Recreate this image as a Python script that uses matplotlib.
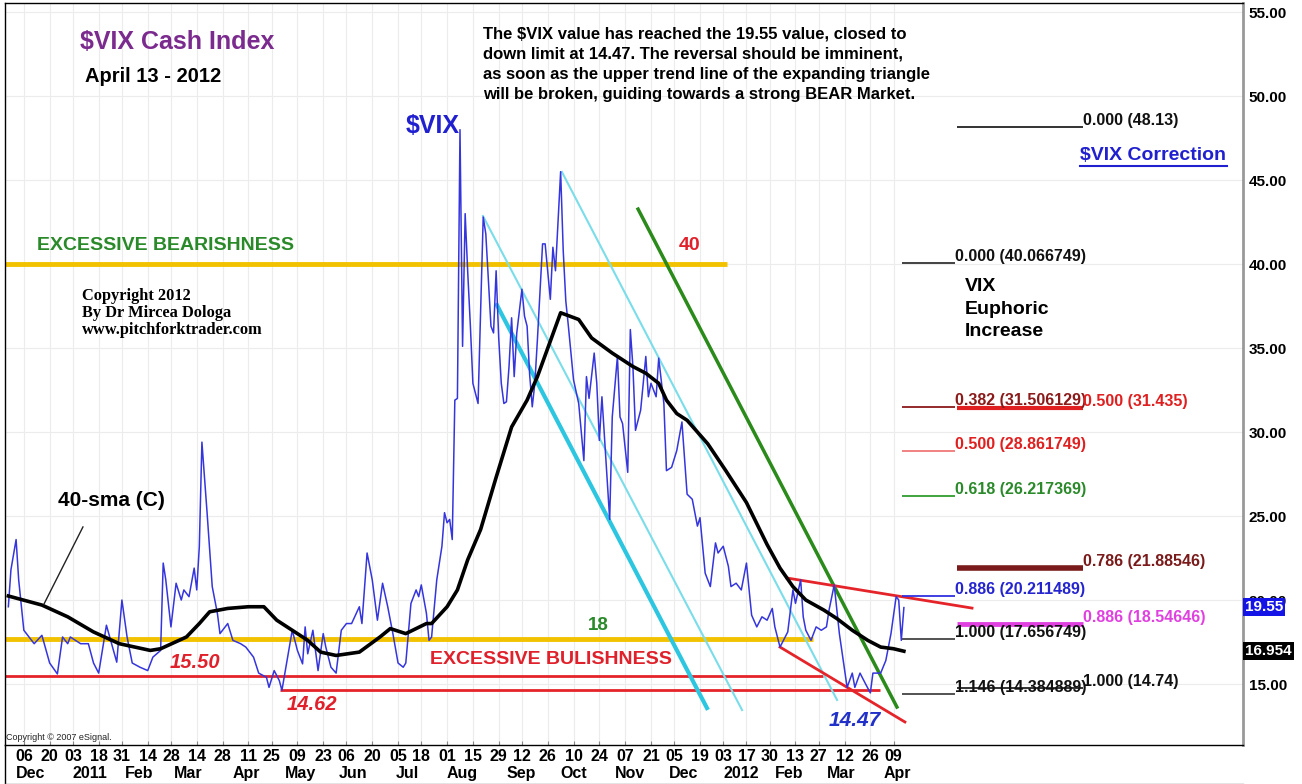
import numpy as np
import matplotlib
matplotlib.use("Agg")
import matplotlib.pyplot as plt
from matplotlib.lines import Line2D

W, H = 1302, 784
plt.rcParams['font.family'] = ['Liberation Sans', 'DejaVu Sans']

# x axis = trading sessions counted from 6 Dec 2010 (NYSE holidays skipped)
start = '2010-12-06'
holidays = ['2010-12-24', '2011-01-17', '2011-02-21', '2011-04-22', '2011-05-30', '2011-07-04',
            '2011-09-05', '2011-11-24', '2011-12-26', '2012-01-02', '2012-01-16', '2012-02-20',
            '2012-04-06']

def session(d):
    return np.busday_count(start, d, holidays=holidays)

# $VIX close (session number, value)
vix_day = [-6, -5, -3, -2, 0, 4, 7, 10, 13, 15, 17, 18, 22, 25, 27, 29, 32, 36, 38, 40,
           42, 45, 48, 50, 53, 54, 55, 57, 59, 61, 62, 64, 66, 67, 68, 69, 71, 73, 75, 76,
           79, 81, 84, 86, 89, 91, 94, 95, 97, 99, 100, 102, 104, 106, 108, 109, 110, 112, 114, 116,
           117, 119, 121, 123, 125, 127, 130, 131, 133, 135, 137, 139, 141, 143, 145, 147, 148, 150, 152, 153,
           154, 156, 157, 158, 160, 162, 163, 164, 165, 166, 167, 168, 169, 170, 171, 172, 173, 174, 175, 176,
           178, 179, 181, 182, 183, 184, 185, 186, 187, 188, 189, 190, 191, 193, 194, 195, 196, 197, 198, 199,
           201, 202, 204, 205, 206, 208, 209, 210, 211, 213, 215, 217, 218, 219, 221, 222, 223, 224, 226, 227,
           228, 230, 231, 232, 234, 235, 236, 237, 239, 241, 242, 243, 245, 246, 248, 249, 251, 253, 255, 257,
           259, 261, 262, 264, 266, 268, 269, 271, 273, 274, 276, 278, 280, 282, 284, 286, 288, 290, 291, 293,
           296, 298, 299, 301, 302, 303, 305, 307, 309, 311, 312, 314, 316, 319, 321, 322, 324, 326, 328, 329,
           332, 334, 336, 338, 339, 340, 341]
vix_val = [19.6, 21.8, 23.6, 21.2, 18.2, 17.4, 17.9, 16.25, 15.6, 17.8, 17.4, 17.8, 17.4, 17.4, 16.25, 15.65, 18.5, 16.3, 20.0, 17.8,
           16.25, 16.0, 15.8, 16.6, 17.0, 22.2, 21.2, 18.4, 21.0, 20.0, 20.6, 20.2, 21.9, 20.6, 23.2, 29.4, 25.2, 20.8, 19.2, 18.0,
           18.6, 17.6, 17.4, 17.2, 16.6, 15.65, 15.4, 14.8, 15.8, 15.2, 14.62, 16.4, 18.2, 17.0, 16.2, 18.4, 16.8, 18.2, 15.8, 18.0,
           17.2, 16.0, 15.65, 18.2, 18.6, 18.6, 19.6, 18.6, 22.8, 21.2, 18.8, 21.0, 19.6, 18.0, 16.25, 16.0, 16.25, 19.8, 20.6, 20.2,
           20.9, 19.2, 17.6, 17.8, 21.2, 23.2, 25.2, 24.6, 24.8, 23.6, 31.9, 32.0, 48.0, 35.1, 43.0, 39.5, 36.4, 32.9, 32.3, 31.7,
           42.8, 41.8, 36.3, 35.9, 39.6, 35.6, 32.9, 31.7, 31.8, 33.9, 36.8, 33.3, 35.9, 38.5, 36.9, 36.3, 33.4, 31.5, 32.9, 35.5,
           41.2, 41.2, 37.9, 41.0, 39.6, 45.5, 40.8, 37.8, 36.3, 33.1, 31.7, 28.3, 33.3, 32.0, 34.7, 32.9, 29.5, 32.1, 27.3, 24.8,
           30.9, 34.5, 30.9, 30.5, 27.6, 36.1, 33.9, 30.1, 31.3, 34.5, 32.1, 32.9, 32.1, 34.4, 31.7, 27.7, 27.9, 28.9, 30.6, 26.3,
           26.0, 24.4, 24.9, 21.6, 20.8, 23.4, 22.8, 23.2, 22.0, 20.8, 21.0, 20.6, 22.2, 19.1, 18.4, 19.0, 18.8, 19.5, 18.4, 17.2,
           18.1, 20.6, 19.8, 21.2, 19.0, 18.2, 17.6, 18.4, 18.2, 18.4, 19.4, 20.9, 18.0, 14.8, 15.65, 14.8, 15.65, 15.05, 14.47, 15.65,
           15.65, 16.4, 18.0, 20.2, 20.0, 17.6, 19.55]

# 40-sma (C)
sma_day = [-6, 7, 17, 27, 37, 49, 53, 63, 68, 72, 79, 87, 93, 98, 104, 110, 115, 121, 130, 138,
           142, 148, 156, 158, 164, 168, 172, 177, 183, 189, 195, 199, 208, 215, 220, 228, 236, 241, 246, 249,
           253, 257, 265, 272, 280, 288, 293, 298, 303, 310, 315, 321, 327, 332, 337, 341]
sma_val = [20.24, 19.7, 19.0, 18.1, 17.4, 17.0, 17.1, 17.8, 18.6, 19.3, 19.5, 19.6, 19.6, 18.8, 18.2, 17.6, 16.9, 16.7, 16.9, 17.8,
           18.3, 18.0, 18.6, 18.6, 19.6, 20.6, 22.4, 24.2, 27.3, 30.3, 31.9, 33.3, 37.1, 36.7, 35.6, 34.7, 33.9, 33.5, 32.9, 31.9,
           31.1, 30.7, 29.3, 27.7, 25.8, 23.3, 21.9, 20.8, 20.0, 19.4, 18.9, 18.2, 17.6, 17.2, 17.1, 16.954]

# drawn trend lines: (session, value) end points
cyan_thick = [(183.3, 37.56), (264.7, 13.57)]
cyan_thin = [[(177.9, 42.86), (278.3, 13.45)], [(208.5, 45.48), (315.1, 14.05)]]
green_line = [(238.0, 43.27), (338.3, 13.63)]
red_upper = [(295.7, 21.31), (367.4, 19.52)]
red_lower = [(293.0, 17.20), (341.4, 12.74)]

# fibonacci levels
euph_lvl = [40.066749, 31.506129, 28.861749, 26.217369, 20.211489, 17.656749, 14.384889]
euph_lab = ['0.000 (40.066749)', '0.382 (31.506129)', '0.500 (28.861749)', '0.618 (26.217369)',
            '0.886 (20.211489)', '1.000 (17.656749)', '1.146 (14.384889)']
euph_col = ['#111111', '#8B1A1A', '#E02020', '#2A8A2A', '#2525D0', '#111111', '#111111']
euph_line = ['#333333', '#8B1A1A', '#F07878', '#2E9E2E', '#3030E0', '#444444', '#444444']
corr_lvl = [48.13, 31.435, 21.88546, 18.54646, 14.74]
corr_lab = ['0.000 (48.13)', '0.500 (31.435)', '0.786 (21.88546)', '0.886 (18.54646)', '1.000 (14.74)']
corr_col = ['#111111', '#E02020', '#7A1A1A', '#E040E0', '#111111']
corr_lw = [1.2, 3, 4, 3.5, 1.2]

tick_dates = ['2010-12-06', '2010-12-20', '2011-01-03', '2011-01-18', '2011-01-31', '2011-02-14',
              '2011-02-28', '2011-03-14', '2011-03-28', '2011-04-11', '2011-04-25', '2011-05-09',
              '2011-05-23', '2011-06-06', '2011-06-20', '2011-07-05', '2011-07-18', '2011-08-01',
              '2011-08-15', '2011-08-29', '2011-09-12', '2011-09-26', '2011-10-10', '2011-10-24',
              '2011-11-07', '2011-11-21', '2011-12-05', '2011-12-19', '2012-01-03', '2012-01-17',
              '2012-01-30', '2012-02-13', '2012-02-27', '2012-03-12', '2012-03-26', '2012-04-09']
month_dates = ['2010-12-01', '2011-01-03', '2011-02-01', '2011-03-01', '2011-04-01', '2011-05-02',
               '2011-06-01', '2011-07-01', '2011-08-01', '2011-09-01', '2011-10-03', '2011-11-01',
               '2011-12-01', '2012-01-03', '2012-02-01', '2012-03-01', '2012-04-02']
month_labels = ['Dec', '2011', 'Feb', 'Mar', 'Apr', 'May', 'Jun', 'Jul', 'Aug', 'Sep', 'Oct', 'Nov',
                'Dec', '2012', 'Feb', 'Mar', 'Apr']
price_ticks = [15, 20, 25, 30, 35, 40, 45, 50, 55]

fig = plt.figure(figsize=(W / 100, H / 100), dpi=100)
ax = fig.add_axes([5 / W, 1 - 745 / H, (1243 - 5) / W, (745 - 3) / H])
ax.set_xlim(-7.3, 472.4)
ax.set_ylim(11.37, 55.54)

def ftxt(px, py, s, **kw):
    kw.setdefault('va', 'center')
    kw.setdefault('ha', 'left')
    return fig.text(px / W, 1 - py / H, s, parse_math=False, **kw)

# grid
ax.set_axisbelow(True)
ax.grid(True, color='#ECECEC', lw=0.8)

# horizontal zones
ax.hlines(40, -7.3, 272.4, color='#F2C200', lw=3.5, zorder=2)
ax.hlines(17.66, -7.3, 305.8, color='#F2C200', lw=3.5, zorder=2)
ax.hlines(15.5, -7.3, 309.6, color='#E5242A', lw=2, zorder=2)
ax.hlines(14.62, 99.3, 331.7, color='#E5242A', lw=2, zorder=2)

# channel lines
ax.plot(*zip(*cyan_thick), color='#2CC6E0', lw=3, zorder=3)
for seg in cyan_thin:
    ax.plot(*zip(*seg), color='#7ADDEA', lw=1.5, zorder=3)
ax.plot(*zip(*green_line), color='#2A8A1A', lw=2.5, zorder=3)
ax.plot(*zip(*red_upper), color='#E5242A', lw=2, zorder=3)
ax.plot(*zip(*red_lower), color='#E5242A', lw=2, zorder=3)

# series
ax.plot(vix_day, vix_val, color='#3535DD', lw=1.1, zorder=4)
ax.plot(sma_day, sma_val, color='black', lw=2.6, zorder=5)
ax.plot([22.9, 7.8], [24.35, 19.76], color='#222222', lw=1, zorder=5)

# fibonacci levels
for lvl, lab, c, lc in zip(euph_lvl, euph_lab, euph_col, euph_line):
    ax.hlines(lvl, 340.3, 360.8, color=lc, lw=1.3, zorder=3)
    ax.text(360.8, lvl + 0.12, lab, color=c, fontsize=11.5, fontweight='bold',
            va='baseline', ha='left', zorder=6)
for lvl, lab, c, lw in zip(corr_lvl, corr_lab, corr_col, corr_lw):
    ax.hlines(lvl, 361.6, 410.4, color=c, lw=lw, zorder=3)
    ax.text(410.4, lvl + 0.12, lab, color=c, fontsize=11.5, fontweight='bold',
            va='baseline', ha='left', zorder=6)

# axes styling
for s in ['left', 'bottom', 'top']:
    ax.spines[s].set_color('black')
    ax.spines[s].set_linewidth(1)
ax.spines['right'].set_color('#999999')
ax.spines['right'].set_linewidth(2)

ax.yaxis.tick_right()
ax.set_yticks(price_ticks)
ax.set_yticklabels([f'{v:.2f}' for v in price_ticks], fontsize=11, fontweight='bold')
ax.tick_params(axis='y', length=0, pad=4)

ticks = [session(d) for d in tick_dates]
ax.set_xticks(ticks)
ax.set_xticklabels([d[-2:] for d in tick_dates], fontsize=11.5, fontweight='bold')
ax.tick_params(axis='x', length=3, direction='in', color='#888888', pad=3)
for d, lab in zip(month_dates, month_labels):
    ax.text(session(d), -0.039, lab, transform=ax.get_xaxis_transform(), fontsize=11.5,
            fontweight='bold', ha='left', va='center')

# frame of the date strip
fig.add_artist(Line2D([5 / W, 5 / W], [1 - 745 / H, 1 - 783.5 / H], color='black', lw=1))
fig.add_artist(Line2D([5 / W, 1243 / W], [1 - 783.5 / H, 1 - 783.5 / H], color='#777777', lw=1))

# last value boxes
ftxt(1245, 607, '19.55', color='white', fontsize=11, fontweight='bold',
     bbox=dict(facecolor='#1414E6', edgecolor='none', pad=1.5))
ftxt(1245, 651, '16.954', color='white', fontsize=11, fontweight='bold',
     bbox=dict(facecolor='black', edgecolor='none', pad=1.5))

# annotations
ftxt(80, 42, '$VIX Cash Index', color='#7B2A8E', fontsize=18, fontweight='bold')
ftxt(85, 76, 'April 13 - 2012', fontsize=14.5, fontweight='bold')
ftxt(483, 64, 'The $VIX value has reached the 19.55 value, closed to\n'
     'down limit at 14.47. The reversal should be imminent,\n'
     'as soon as the upper trend line of the expanding triangle\n'
     'will be broken, guiding towards a strong BEAR Market.',
     fontsize=12, fontweight='bold', linespacing=1.42)
ftxt(406, 126, '$VIX', color='#2020D0', fontsize=18, fontweight='bold')
ftxt(37, 246, 'EXCESSIVE BEARISHNESS', color='#2A8A2A', fontsize=14, fontweight='bold')
ftxt(82, 313, 'Copyright 2012\nBy Dr Mircea Dologa\nwww.pitchforktrader.com',
     family='Liberation Serif', fontsize=11.8, fontweight='bold', linespacing=1.08)
ftxt(58, 501, '40-sma (C)', fontsize=15, fontweight='bold')
ftxt(195, 662, '15.50', color='#E0202A', fontsize=14.5, fontweight='bold', style='italic', ha='center')
ftxt(312, 705, '14.62', color='#E0202A', fontsize=14.5, fontweight='bold', style='italic', ha='center')
ftxt(430, 660, 'EXCESSIVE BULISHNESS', color='#E0202A', fontsize=14, fontweight='bold')
ftxt(598, 626, '18', color='#2A8A2A', fontsize=13.5, fontweight='bold', ha='center')
ftxt(690, 246, '40', color='#E0202A', fontsize=14, fontweight='bold', ha='center')
ftxt(855, 720, '14.47', color='#2030C8', fontsize=15, fontweight='bold', style='italic', ha='center')
ftxt(965, 309, 'VIX\nEuphoric\nIncrease', fontsize=14, fontweight='bold', linespacing=1.42)
ftxt(1080, 156, '$VIX Correction', color='#2020D0', fontsize=14, fontweight='bold')
fig.add_artist(Line2D([1080 / W, 1227 / W], [1 - 166 / H, 1 - 166 / H], color='#2020D0', lw=1.5))
ftxt(6, 737, 'Copyright \u00a9 2007 eSignal.', fontsize=6.5, color='#222222')

fig.savefig('out.png', dpi=100)
